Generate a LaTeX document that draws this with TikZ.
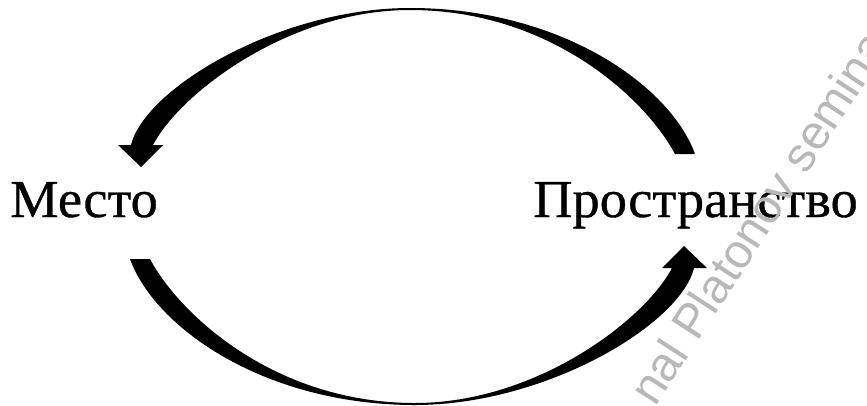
\documentclass[tikz,border=0pt]{standalone}
\usepackage{fontspec}
\setmainfont{Liberation Serif}[FakeStretch=1.02, FakeBold=0.6]
\newfontfamily\markfont{Liberation Sans}
\usetikzlibrary{positioning}

\begin{document}
\begin{tikzpicture}[
  x=0.75pt, y=-0.75pt,
  word/.style={anchor=base west, inner sep=0pt,
               font=\fontsize{40}{48}\selectfont},
  wmark/.style={anchor=base west, inner sep=0pt, rotate=57,
                text=black!28, font=\markfont\fontsize{36}{40}\selectfont},
  crescent/.pic={
    \fill (695,154) .. controls (670,85) and (560,8) .. (410,8)
      .. controls (280,8) and (145,88) .. (131,145)
      -- (118,145) -- (141,167) -- (163,145) -- (153,145)
      .. controls (181,92) and (290,10) .. (410,10)
      .. controls (550,10) and (645,98) .. (675,154)
      -- cycle;
  }
]
\useasboundingbox (0,0) rectangle (867,405);
\clip (0,0) rectangle (867,405);

% the two bent arrows
\pic at (0,0) {crescent};
\pic[rotate=180] at (825,413) {crescent};

\node[word] (mesto)  at (10,217)  {Место};
\node[word] (prostr) at (533,217) {Пространство};

% watermark
\node[wmark] (mark) at (655,408) {nal Platonov seminar};
\end{tikzpicture}
\end{document}
